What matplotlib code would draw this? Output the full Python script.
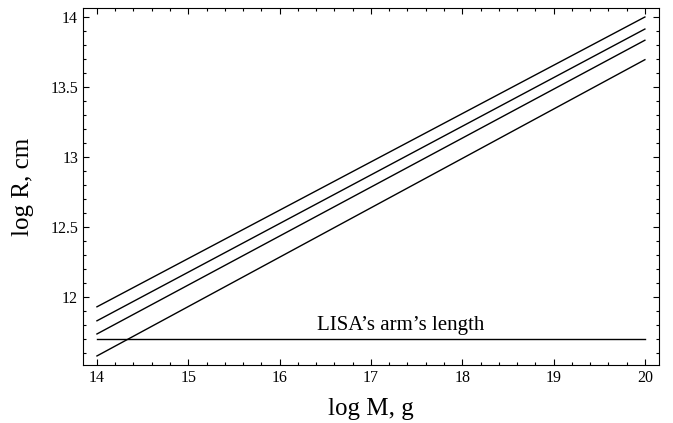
import matplotlib.pyplot as plt
from matplotlib.ticker import MultipleLocator

plt.rcParams['font.family'] = ['Liberation Serif', 'DejaVu Serif']

# log M range and the four log R lines (endpoints)
log_m = [14, 20]
line_starts = [11.93, 11.83, 11.736, 11.579]
line_ends = [14.0, 13.914, 13.834, 13.695]
lisa_arm = 11.699   # log(5e11 cm)
lisa_label = "LISA\u2019s arm\u2019s length"

fig = plt.figure(figsize=(6.73, 4.23), dpi=100)
ax = fig.add_axes([0.1233, 0.137, 0.8557, 0.844])

for y0, y1 in zip(line_starts, line_ends):
    ax.plot(log_m, [y0, y1], c='black', linewidth=1)
ax.plot(log_m, [lisa_arm, lisa_arm], c='black', linewidth=1)
ax.text(17.33, lisa_arm + 0.03, lisa_label, ha='center', va='bottom', fontsize=15)

ax.set_xlim(13.847, 20.153)
ax.set_ylim(11.514, 14.064)

ax.xaxis.set_major_locator(MultipleLocator(1))
ax.xaxis.set_minor_locator(MultipleLocator(0.2))
ax.yaxis.set_major_locator(MultipleLocator(0.5))
ax.yaxis.set_minor_locator(MultipleLocator(0.1))
ax.set_yticks([12, 12.5, 13, 13.5, 14])
ax.set_yticklabels(['12', '12.5', '13', '13.5', '14'])

ax.tick_params(which='both', direction='in', top=True, right=True, labelsize=11.5, width=0.8)
ax.tick_params(which='major', length=4.5)
ax.tick_params(which='minor', length=2.5)
for s in ax.spines.values():
    s.set_linewidth(0.8)

ax.set_xlabel("log M, g", fontsize=18, labelpad=9)
ax.set_ylabel("log R, cm", fontsize=18, labelpad=12)

fig.savefig("out.png", dpi=100)
